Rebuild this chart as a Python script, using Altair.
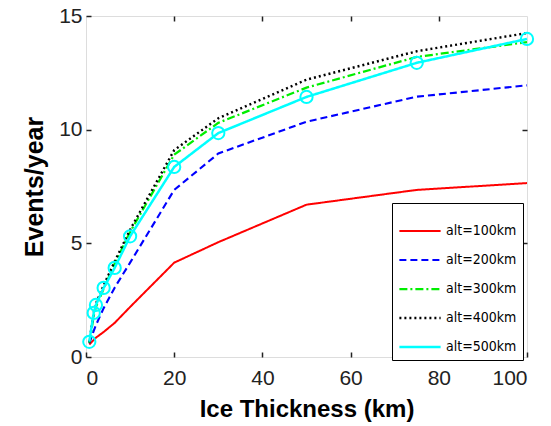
import altair as alt
import pandas as pd

thickness = [0.75, 1.75, 2.25, 4, 6.5, 10, 20, 30, 50, 75, 100]
alt100 = [0.55, 0.75, 0.85, 1.1, 1.5, 2.2, 4.15, 5.05, 6.7, 7.35, 7.65]
alt200 = [0.6, 1.15, 1.4, 2.15, 3.05, 4.15, 7.35, 8.95, 10.35, 11.45, 11.95]
alt300 = [0.62, 1.8, 2.2, 3.0, 4.1, 5.5, 8.9, 10.3, 11.85, 13.2, 13.85]
alt400 = [0.65, 1.95, 2.35, 3.15, 4.2, 5.6, 9.1, 10.5, 12.2, 13.45, 14.25]
alt500 = [0.67, 1.94, 2.29, 3.04, 3.92, 5.31, 8.36, 9.85, 11.44, 12.94, 13.99]

series_names = ["alt=100km", "alt=200km", "alt=300km", "alt=400km", "alt=500km"]
series_vals = [alt100, alt200, alt300, alt400, alt500]
colors = ["#FF0000", "#0000FF", "#00EE00", "#000000", "#00FFFF"]
dashes = [[1, 0], [7, 4], [8, 3, 2, 3], [2, 3], [1, 0]]
widths = [2, 2.5, 2, 2.5, 2]

rows = []
for i, (name, vals) in enumerate(zip(series_names, series_vals)):
    for x, y in zip(thickness, vals):
        rows.append({"series": name, "order": i, "x": x, "y": y})
df = pd.DataFrame(rows)

xs = alt.Scale(domain=[0, 100], nice=False)
ys = alt.Scale(domain=[0, 15], nice=False)

tick_font = "Liberation Sans"
legend_font = "Liberation Sans Narrow, DejaVu Sans Condensed, Liberation Sans, sans-serif"
TK = 5

legend_kw = dict(title=None, orient="none", legendX=306, legendY=187,
                 symbolType="stroke", symbolSize=1700,
                 symbolStrokeWidth=2, labelFont=legend_font,
                 labelFontSize=14, labelColor="#000", labelOffset=4,
                 padding=6, strokeColor="#000", fillColor="#fff",
                 rowPadding=0)

base = alt.Chart(df)

lines = base.mark_line().encode(
    x=alt.X("x:Q", scale=xs,
            axis=alt.Axis(title="Ice Thickness (km)", values=[0, 20, 40, 60, 80, 100],
                          orient="bottom", offset=-TK, tickSize=TK, tickWidth=1.5, tickColor="#222",
                          domain=False, grid=False,
                          labelFont=tick_font, labelFontSize=21, labelColor="#222",
                          labelPadding=10, titleFont="Liberation Sans", titleFontSize=24,
                          titleFontWeight="bold", titleColor="#000", titlePadding=9)),
    y=alt.Y("y:Q", scale=ys,
            axis=alt.Axis(title="Events/year", values=[0, 5, 10, 15],
                          orient="left", offset=-TK, tickSize=TK, tickWidth=1.5, tickColor="#222",
                          domain=False, grid=False,
                          labelFont=tick_font, labelFontSize=21, labelColor="#222",
                          labelPadding=4,
                          titleFont="Liberation Sans", titleFontSize=25,
                          titleFontWeight="bold", titleColor="#000", titlePadding=11)),
    color=alt.Color("series:N", scale=alt.Scale(domain=series_names, range=colors),
                    legend=alt.Legend(**legend_kw)),
    strokeDash=alt.StrokeDash("series:N", scale=alt.Scale(domain=series_names, range=dashes),
                              legend=alt.Legend(**legend_kw)),
    strokeWidth=alt.StrokeWidth("series:N", scale=alt.Scale(domain=series_names, range=widths), legend=None),
    order=alt.Order("x:Q"),
    detail="series:N",
)

points = base.transform_filter(alt.datum.series == "alt=500km").mark_point(
    shape="circle", filled=False, size=150, strokeWidth=2, color="#00FFFF", opacity=1
).encode(
    x=alt.X("x:Q", scale=xs, axis=alt.Axis(orient="top", offset=-TK, tickSize=TK, labels=False,
                                           domain=False, grid=False, title=None,
                                           values=[20, 40, 60, 80], tickColor="#222", tickWidth=1.5)),
    y=alt.Y("y:Q", scale=ys, axis=alt.Axis(orient="right", offset=-TK, tickSize=TK, labels=False,
                                           domain=False, grid=False, title=None,
                                           values=[5, 10], tickColor="#222", tickWidth=1.5)),
)

chart = alt.layer(lines, points).resolve_axis(
    x="independent", y="independent"
).properties(
    width=441, height=341,
    autosize=alt.AutoSizeParams(type="none"),
    padding={"left": 78, "top": 8, "right": 16, "bottom": 70},
).configure_view(stroke="#222", strokeWidth=1.5).configure(background="white")

chart.save("out.html", embed_options={"renderer": "svg", "actions": False})
